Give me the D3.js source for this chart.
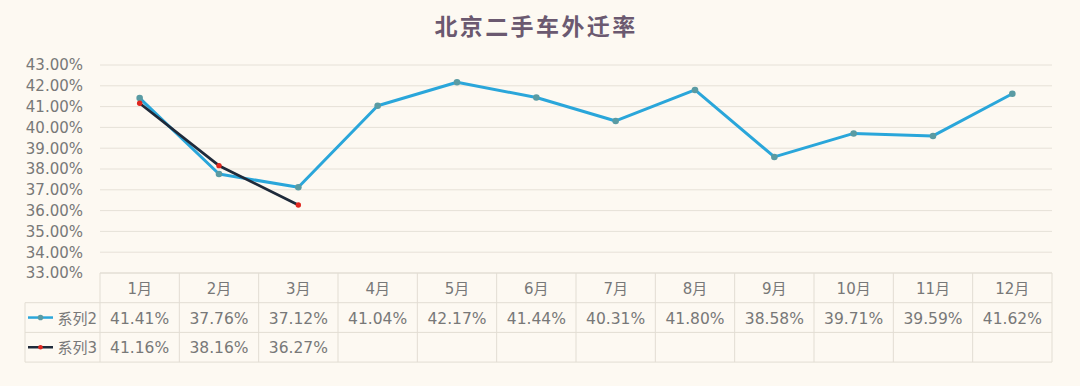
<!DOCTYPE html>
<html>
<head>
<meta charset="utf-8">
<script src="https://cdn.jsdelivr.net/npm/d3@7"></script>
<style>
  body { margin: 0; background: #fdf9f2; }
  svg { display: block; font-family: "DejaVu Sans", "Noto Sans CJK SC", sans-serif; }
</style>
</head>
<body>
<div id="chart"></div>
<script>
const months = ['1月', '2月', '3月', '4月', '5月', '6月', '7月', '8月', '9月', '10月', '11月', '12月'];
const series2 = [41.41, 37.76, 37.12, 41.04, 42.17, 41.44, 40.31, 41.80, 38.58, 39.71, 39.59, 41.62];
const series3 = [41.16, 38.16, 36.27];
const yTicks = [33, 34, 35, 36, 37, 38, 39, 40, 41, 42, 43];
const seriesNames = ['系列2', '系列3'];

const width = 1080, height = 386;
const plotLeft = 100, plotRight = 1052, plotTop = 65, plotBottom = 273;
const rowH = 29.7;
const textColor = '#787878';

const svg = d3.select('#chart').append('svg')
  .attr('width', width).attr('height', height);

svg.append('rect').attr('width', width).attr('height', height).attr('fill', '#fdf9f2');

// title
svg.append('text')
  .attr('x', 536).attr('y', 35)
  .attr('text-anchor', 'middle')
  .attr('font-family', '"Noto Sans CJK SC", sans-serif')
  .attr('font-size', 23).attr('font-weight', 'bold')
  .attr('letter-spacing', 2.4)
  .attr('fill', '#6b5970')
  .text('北京二手车外迁率');

const x = d3.scaleBand().domain(months).range([plotLeft, plotRight]);
const y = d3.scaleLinear().domain([33, 43]).range([plotBottom, plotTop]);

// grid
svg.append('g').selectAll('line')
  .data(yTicks)
  .join('line')
  .attr('x1', plotLeft).attr('x2', plotRight)
  .attr('y1', d => y(d)).attr('y2', d => y(d))
  .attr('stroke', '#e6e1d8').attr('stroke-width', 1);

// y labels
const yAxis = svg.append('g')
  .attr('transform', `translate(${plotLeft},0)`)
  .call(d3.axisLeft(y).tickValues(yTicks).tickFormat(d => d.toFixed(2) + '%').tickSize(0).tickPadding(17));
yAxis.select('.domain').remove();
yAxis.selectAll('text').attr('font-size', 15).attr('fill', textColor)
  .attr('font-family', '"DejaVu Sans", sans-serif');

// data table
const tbl = svg.append('g');
const borderColor = '#e2ddd3';
// horizontal lines
[0, 1, 2, 3].forEach(i => {
  tbl.append('line')
    .attr('x1', i === 0 ? plotLeft : 25).attr('x2', plotRight)
    .attr('y1', plotBottom + i * rowH).attr('y2', plotBottom + i * rowH)
    .attr('stroke', borderColor);
});
// vertical lines
months.concat(['end']).forEach((m, i) => {
  const xx = plotLeft + i * x.bandwidth();
  tbl.append('line')
    .attr('x1', xx).attr('x2', xx)
    .attr('y1', plotBottom).attr('y2', plotBottom + 3 * rowH)
    .attr('stroke', borderColor);
});
tbl.append('line')
  .attr('x1', 25).attr('x2', 25)
  .attr('y1', plotBottom + rowH).attr('y2', plotBottom + 3 * rowH)
  .attr('stroke', borderColor);

// header
tbl.selectAll('text.month')
  .data(months)
  .join('text')
  .attr('class', 'month')
  .attr('x', d => x(d) + x.bandwidth() / 2)
  .attr('y', plotBottom + rowH / 2 + 6)
  .attr('text-anchor', 'middle')
  .attr('font-size', 15).attr('fill', textColor)
  .text(d => d);

const rows = [series2, series3];
rows.forEach((vals, r) => {
  tbl.selectAll('text.v' + r)
    .data(vals)
    .join('text')
    .attr('class', 'v' + r)
    .attr('x', (d, i) => x(months[i]) + x.bandwidth() / 2)
    .attr('y', plotBottom + rowH * (r + 1) + rowH / 2 + 6)
    .attr('text-anchor', 'middle')
    .attr('font-size', 15.5).attr('fill', textColor)
    .text(d => d.toFixed(2) + '%');
  tbl.append('text')
    .attr('x', 97)
    .attr('y', plotBottom + rowH * (r + 1) + rowH / 2 + 6)
    .attr('text-anchor', 'end')
    .attr('font-size', 15).attr('fill', textColor)
    .text(seriesNames[r]);
});

// legend keys
const keys = [
  { line: '#2aa6da', marker: '#5a9ba3', r: 2.8 },
  { line: '#1f2a3a', marker: '#e0261e', r: 2.3 }
];
keys.forEach((k, r) => {
  const yy = plotBottom + rowH * (r + 1) + rowH / 2;
  tbl.append('line').attr('x1', 28).attr('x2', 53).attr('y1', yy).attr('y2', yy)
    .attr('stroke', k.line).attr('stroke-width', 2.5);
  tbl.append('circle').attr('cx', 40.5).attr('cy', yy).attr('r', k.r).attr('fill', k.marker);
});

// lines
const cx = (d, i) => x(months[i]) + x.bandwidth() / 2;
const line = d3.line().x(cx).y(d => y(d));

svg.append('path').datum(series2)
  .attr('d', line).attr('fill', 'none')
  .attr('stroke', '#2aa6da').attr('stroke-width', 3).attr('stroke-linejoin', 'round');
svg.append('path').datum(series3)
  .attr('d', line).attr('fill', 'none')
  .attr('stroke', '#1f2a3a').attr('stroke-width', 2.8).attr('stroke-linejoin', 'round');

svg.append('g').selectAll('circle')
  .data(series2).join('circle')
  .attr('cx', cx).attr('cy', d => y(d)).attr('r', 3.3)
  .attr('fill', '#5a9ba3');
svg.append('g').selectAll('circle')
  .data(series3).join('circle')
  .attr('cx', cx).attr('cy', d => y(d)).attr('r', 2.7)
  .attr('fill', '#e0261e');
</script>
</body>
</html>
